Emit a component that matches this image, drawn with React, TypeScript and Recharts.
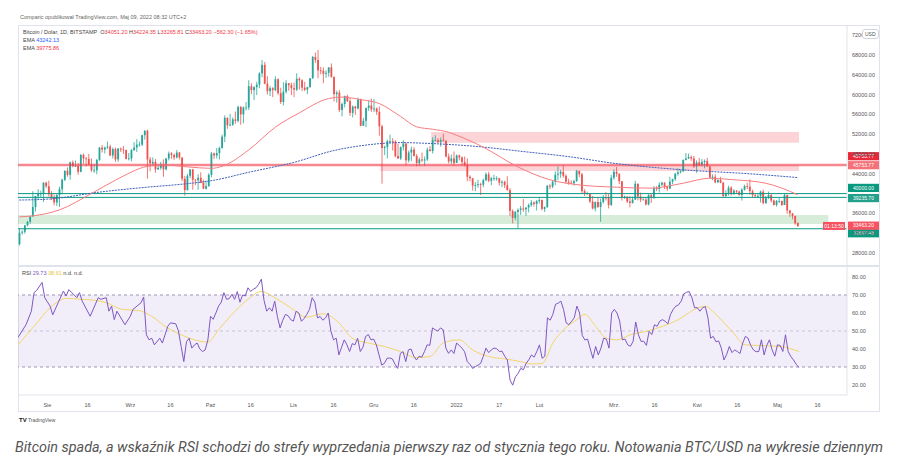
import React from "react";
import { ComposedChart, Bar, Line, XAxis, YAxis, ReferenceLine, ReferenceArea } from "recharts";

// daily BTC/USD candles, Jul 21 2021 -> May 9 2022, in thousands of USD
const opens = [
  29.8, 32.1, 32.3, 33.6, 34.3, 35.4, 37.3, 39.5, 40.0, 40.0,
  42.2, 41.5, 39.9, 39.2, 38.2, 39.7, 40.9, 42.8, 44.6, 43.8,
  46.3, 45.6, 45.6, 44.4, 47.8, 47.1, 47.0, 45.9, 44.7, 44.7,
  46.8, 49.3, 48.9, 49.3, 49.5, 47.7, 49.0, 46.9, 49.1, 48.9,
  48.8, 47.0, 47.1, 48.8, 49.3, 49.9, 49.9, 51.8, 52.7, 46.9,
  46.1, 46.4, 44.9, 45.2, 46.0, 44.9, 47.1, 48.1, 47.8, 47.3,
  48.3, 47.3, 43.0, 40.7, 43.6, 44.9, 42.8, 42.7, 43.2, 42.2,
  41.0, 41.5, 43.8, 48.1, 47.7, 48.2, 49.2, 51.5, 55.3, 53.8,
  53.9, 55.0, 54.7, 57.5, 56.0, 57.4, 57.4, 61.7, 60.9, 61.5,
  62.0, 64.3, 66.0, 62.2, 60.7, 61.3, 60.9, 63.1, 60.3, 58.5,
  60.6, 62.3, 61.9, 61.3, 61.0, 63.2, 62.9, 61.4, 61.0, 61.5,
  63.3, 67.6, 67.0, 64.9, 64.8, 64.2, 64.4, 65.5, 63.6, 60.1,
  60.4, 56.9, 58.1, 59.7, 58.7, 56.3, 57.6, 57.2, 59.0, 53.7,
  54.7, 57.3, 57.8, 57.0, 57.2, 56.5, 53.6, 49.2, 49.4, 50.6,
  50.6, 50.5, 47.6, 47.1, 49.4, 50.1, 46.7, 48.3, 48.9, 47.6,
  46.2, 46.9, 46.7, 46.9, 48.9, 48.6, 50.8, 50.8, 50.4, 50.8,
  50.7, 47.5, 46.5, 47.1, 46.2, 47.7, 47.3, 46.4, 45.8, 43.4,
  43.1, 41.6, 41.7, 41.9, 41.8, 42.7, 43.9, 42.6, 43.1, 43.1,
  43.1, 42.2, 42.4, 41.7, 40.7, 36.5, 35.1, 36.3, 36.7, 37.0,
  36.8, 37.2, 37.7, 38.2, 37.9, 38.5, 38.7, 36.9, 37.3, 41.6,
  41.4, 42.4, 43.8, 44.0, 44.4, 43.6, 42.4, 42.2, 42.1, 42.5,
  44.6, 43.9, 40.5, 40.0, 40.1, 38.4, 37.0, 38.3, 37.3, 38.3,
  39.2, 39.1, 37.7, 43.2, 44.4, 44.0, 42.5, 39.2, 39.4, 38.4,
  38.1, 38.8, 42.0, 39.4, 38.8, 38.8, 37.8, 39.7, 39.3, 41.1,
  40.9, 41.8, 42.2, 41.3, 41.0, 42.4, 42.9, 44.0, 44.3, 44.5,
  46.8, 47.1, 47.4, 47.1, 45.5, 46.3, 45.8, 46.4, 46.6, 45.5,
  43.2, 43.4, 42.3, 42.8, 42.2, 39.5, 40.1, 41.2, 39.9, 40.6,
  40.4, 39.7, 40.8, 41.5, 41.4, 40.5, 39.7, 39.5, 39.5, 40.4,
  38.1, 39.2, 39.7, 38.6, 37.7, 38.5, 38.5, 37.7, 39.7, 36.6,
  36.0, 35.5, 34.05,
];
const highs = [
  32.9, 32.6, 33.6, 34.5, 35.4, 40.5, 39.5, 40.9, 40.6, 42.3,
  42.4, 42.6, 40.5, 39.8, 39.9, 41.4, 43.0, 44.7, 45.3, 46.5,
  46.7, 46.7, 46.2, 48.0, 48.1, 47.4, 48.0, 47.1, 46.0, 47.0,
  49.4, 49.8, 49.5, 50.5, 49.9, 49.3, 49.3, 49.2, 49.3, 49.6,
  48.9, 48.2, 49.0, 50.4, 51.0, 50.5, 51.9, 52.8, 52.9, 47.4,
  47.3, 47.0, 45.9, 46.4, 46.9, 47.2, 48.5, 48.4, 48.1, 48.8,
  48.4, 47.3, 43.6, 44.0, 44.9, 45.0, 42.9, 43.9, 44.3, 42.8,
  42.6, 44.1, 48.4, 48.3, 49.2, 49.5, 51.9, 55.8, 55.4, 56.1,
  55.4, 56.6, 57.8, 57.7, 57.6, 58.5, 62.9, 62.3, 61.7, 62.6,
  64.5, 67.0, 66.6, 63.7, 61.7, 61.5, 63.7, 63.3, 61.4, 62.5,
  62.9, 62.3, 62.4, 62.4, 64.3, 63.5, 63.1, 62.6, 61.6, 63.3,
  67.8, 68.5, 69.0, 65.6, 65.5, 64.9, 65.5, 66.3, 63.6, 60.8,
  60.9, 58.4, 59.8, 60.0, 59.3, 57.8, 57.7, 59.4, 59.2, 55.3,
  57.4, 58.8, 59.2, 59.1, 57.4, 57.6, 53.9, 49.7, 50.9, 51.9,
  51.2, 50.8, 50.1, 49.5, 50.8, 50.2, 48.7, 49.5, 49.4, 48.0,
  47.3, 48.3, 47.5, 49.3, 49.6, 51.4, 51.8, 51.2, 51.3, 52.1,
  50.7, 48.1, 47.9, 48.5, 47.9, 47.9, 47.5, 47.5, 47.1, 43.7,
  43.1, 42.3, 42.8, 42.2, 43.0, 44.3, 44.4, 43.4, 43.8, 43.5,
  43.2, 42.7, 42.6, 43.5, 41.1, 36.8, 36.5, 37.0, 37.5, 38.9,
  37.2, 38.0, 38.7, 38.4, 38.7, 39.2, 38.8, 37.4, 41.7, 41.9,
  42.6, 44.5, 45.5, 44.8, 45.8, 43.9, 43.0, 42.7, 42.8, 44.8,
  44.6, 44.2, 40.9, 40.4, 40.1, 39.5, 38.4, 39.3, 39.0, 39.7,
  40.3, 39.9, 43.8, 44.9, 45.4, 44.1, 42.5, 39.6, 39.4, 39.5,
  39.4, 42.6, 42.0, 40.2, 39.3, 39.3, 39.9, 39.9, 41.5, 41.5,
  42.3, 42.4, 42.3, 41.6, 43.4, 43.0, 44.2, 45.1, 44.8, 46.9,
  48.2, 48.1, 47.7, 47.6, 46.7, 47.2, 47.0, 46.9, 47.2, 45.5,
  43.9, 43.9, 42.8, 43.4, 42.4, 40.7, 41.6, 41.5, 40.9, 40.7,
  40.6, 41.1, 41.8, 42.2, 42.9, 40.8, 39.9, 39.9, 40.6, 40.8,
  39.5, 40.4, 39.9, 38.8, 38.7, 39.2, 38.6, 40.0, 39.8, 36.7,
  36.1, 35.5, 34.22,
];
const lows = [
  29.5, 31.7, 31.9, 33.4, 33.9, 35.3, 36.4, 38.8, 39.3, 38.3,
  41.1, 39.4, 38.7, 37.6, 37.5, 37.3, 39.9, 42.5, 43.4, 42.8,
  45.3, 45.4, 43.8, 44.3, 46.0, 45.5, 45.7, 44.4, 44.2, 43.9,
  46.6, 48.3, 48.1, 49.0, 47.6, 47.1, 46.4, 46.4, 48.4, 48.0,
  46.9, 46.7, 46.5, 48.6, 48.4, 49.5, 49.6, 50.9, 43.0, 44.5,
  45.5, 44.2, 44.8, 44.8, 43.4, 44.7, 46.7, 47.0, 46.8, 47.1,
  46.9, 42.5, 39.6, 40.6, 43.1, 40.8, 41.7, 40.8, 42.1, 40.9,
  40.8, 41.4, 43.3, 47.0, 47.1, 46.9, 49.1, 50.4, 53.1, 53.6,
  53.7, 54.1, 54.4, 53.9, 54.2, 56.8, 56.9, 60.1, 58.9, 59.9,
  61.3, 63.5, 62.1, 60.0, 59.7, 59.5, 60.7, 59.9, 58.1, 57.8,
  60.2, 60.8, 59.9, 59.5, 60.7, 61.0, 60.7, 60.7, 60.1, 61.4,
  63.2, 66.4, 63.3, 64.1, 62.3, 63.4, 63.6, 63.4, 58.6, 58.4,
  56.5, 55.6, 57.4, 58.5, 55.7, 55.4, 55.9, 57.0, 53.6, 53.7,
  53.4, 56.7, 56.5, 56.5, 55.9, 51.7, 42.0, 47.8, 47.1, 50.1,
  48.7, 47.3, 47.0, 46.8, 48.7, 45.7, 46.3, 46.6, 47.5, 45.5,
  45.6, 46.4, 45.6, 46.6, 48.5, 48.1, 50.5, 50.2, 49.5, 50.5,
  47.3, 46.1, 46.0, 45.7, 46.2, 46.7, 45.7, 45.5, 42.5, 42.5,
  40.6, 40.5, 41.2, 39.7, 41.3, 42.5, 42.3, 41.7, 42.6, 42.6,
  41.6, 41.3, 41.1, 40.6, 35.5, 34.0, 34.6, 33.0, 35.7, 36.3,
  35.5, 36.2, 37.3, 37.4, 36.6, 38.0, 36.6, 36.3, 37.1, 40.9,
  41.1, 41.7, 42.7, 43.2, 43.2, 42.0, 41.8, 41.9, 41.6, 42.4,
  43.3, 40.1, 39.5, 39.7, 38.1, 36.8, 36.4, 37.1, 34.3, 38.0,
  38.6, 37.0, 37.5, 42.8, 43.4, 41.9, 38.6, 38.9, 38.1, 37.2,
  38.0, 38.7, 38.6, 38.3, 38.7, 37.6, 37.6, 38.1, 38.9, 40.5,
  40.2, 41.5, 40.9, 40.5, 40.9, 41.9, 42.6, 43.6, 44.1, 44.4,
  46.7, 47.0, 46.6, 45.2, 44.2, 45.6, 45.5, 45.1, 45.4, 43.1,
  42.7, 42.1, 42.1, 42.1, 39.2, 39.3, 39.6, 39.6, 39.8, 40.0,
  39.6, 38.6, 40.6, 40.9, 39.8, 39.2, 39.3, 39.2, 38.2, 37.8,
  37.9, 38.9, 38.2, 37.6, 37.4, 38.1, 37.5, 37.7, 35.9, 35.3,
  34.8, 33.7, 33.27,
];
const closes = [
  32.1, 32.3, 33.6, 34.3, 35.4, 37.3, 39.5, 40.0, 40.0, 42.2,
  41.5, 39.9, 39.2, 38.2, 39.7, 40.9, 42.8, 44.6, 43.8, 46.3,
  45.6, 45.6, 44.4, 47.8, 47.1, 47.0, 45.9, 44.7, 44.7, 46.8,
  49.3, 48.9, 49.3, 49.5, 47.7, 49.0, 46.9, 49.1, 48.9, 48.8,
  47.0, 47.1, 48.8, 49.3, 49.9, 49.9, 51.8, 52.7, 46.9, 46.1,
  46.4, 44.9, 45.2, 46.0, 44.9, 47.1, 48.1, 47.8, 47.3, 48.3,
  47.3, 43.0, 40.7, 43.6, 44.9, 42.8, 42.7, 43.2, 42.2, 41.0,
  41.5, 43.8, 48.1, 47.7, 48.2, 49.2, 51.5, 55.3, 53.8, 53.9,
  55.0, 54.7, 57.5, 56.0, 57.4, 57.4, 61.7, 60.9, 61.5, 62.0,
  64.3, 66.0, 62.2, 60.7, 61.3, 60.9, 63.1, 60.3, 58.5, 60.6,
  62.3, 61.9, 61.3, 61.0, 63.2, 62.9, 61.4, 61.0, 61.5, 63.3,
  67.6, 67.0, 64.9, 64.8, 64.2, 64.4, 65.5, 63.6, 60.1, 60.4,
  56.9, 58.1, 59.7, 58.7, 56.3, 57.6, 57.2, 59.0, 53.7, 54.7,
  57.3, 57.8, 57.0, 57.2, 56.5, 53.6, 49.2, 49.4, 50.6, 50.6,
  50.5, 47.6, 47.1, 49.4, 50.1, 46.7, 48.3, 48.9, 47.6, 46.2,
  46.9, 46.7, 46.9, 48.9, 48.6, 50.8, 50.8, 50.4, 50.8, 50.7,
  47.5, 46.5, 47.1, 46.2, 47.7, 47.3, 46.4, 45.8, 43.4, 43.1,
  41.6, 41.7, 41.9, 41.8, 42.7, 43.9, 42.6, 43.1, 43.1, 43.1,
  42.2, 42.4, 41.7, 40.7, 36.5, 35.1, 36.3, 36.7, 37.0, 36.8,
  37.2, 37.7, 38.2, 37.9, 38.5, 38.7, 36.9, 37.3, 41.6, 41.4,
  42.4, 43.8, 44.0, 44.4, 43.6, 42.4, 42.2, 42.1, 42.5, 44.6,
  43.9, 40.5, 40.0, 40.1, 38.4, 37.0, 38.3, 37.3, 38.3, 39.2,
  39.1, 37.7, 43.2, 44.4, 44.0, 42.5, 39.2, 39.4, 38.4, 38.1,
  38.8, 42.0, 39.4, 38.8, 38.8, 37.8, 39.7, 39.3, 41.1, 40.9,
  41.8, 42.2, 41.3, 41.0, 42.4, 42.9, 44.0, 44.3, 44.5, 46.8,
  47.1, 47.4, 47.1, 45.5, 46.3, 45.8, 46.4, 46.6, 45.5, 43.2,
  43.4, 42.3, 42.8, 42.2, 39.5, 40.1, 41.2, 39.9, 40.6, 40.4,
  39.7, 40.8, 41.5, 41.4, 40.5, 39.7, 39.5, 39.5, 40.4, 38.1,
  39.2, 39.7, 38.6, 37.7, 38.5, 38.5, 37.7, 39.7, 36.6, 36.0,
  35.5, 34.0, 33.46,
];

// EMA curves (day index -> value, thousands)
const ema50Idx = [0, 5, 15, 27, 36, 48, 54, 63, 72, 76, 86, 96, 105, 116, 121, 128, 135, 143, 149, 155, 161, 164, 174, 187, 199, 211, 224, 237, 249, 259, 268, 280, 292];
const ema50Val = [35.3, 35.5, 36.7, 40.0, 42.7, 45.5, 45.8, 45.4, 45.1, 45.5, 48.8, 53.4, 56.3, 59.2, 59.5, 59.0, 58.2, 55.6, 53.5, 53.0, 52.4, 51.8, 49.4, 45.4, 42.8, 41.7, 41.3, 41.1, 42.1, 43.1, 42.8, 42.1, 39.78];
const ema200Idx = [0, 11, 30, 48, 61, 73, 86, 103, 118, 130, 143, 155, 172, 189, 207, 222, 249, 274, 292];
const ema200Val = [38.7, 38.9, 40.3, 41.3, 41.9, 42.7, 44.3, 46.3, 48.7, 49.8, 50.3, 50.1, 49.5, 48.5, 47.4, 46.2, 44.8, 44.0, 43.24];

const rsiIdx = [
  0, 3, 5, 6, 7, 9, 10, 12, 13, 15, 17, 18, 19, 22, 23, 24, 27, 30, 31, 33, 34, 35, 36, 37, 40, 42, 43, 46, 47, 48,
  49, 50, 51, 53, 54, 56, 57, 59, 60, 61, 62, 63, 64, 65, 66, 67, 68, 69, 70, 71, 72, 73, 74, 75, 76, 77, 78, 79, 80, 81,
  82, 83, 84, 85, 86, 87, 88, 89, 90, 91, 92, 93, 94, 95, 96, 97, 98, 99, 100, 101, 102, 103, 104, 105, 106, 107, 108, 109, 110, 111,
  112, 113, 114, 115, 116, 117, 118, 119, 120, 121, 122, 123, 124, 125, 126, 127, 128, 129, 130, 131, 132, 133, 134, 135, 136, 137, 138, 139, 140, 141,
  142, 143, 144, 145, 146, 147, 148, 149, 150, 151, 152, 153, 154, 155, 156, 157, 158, 159, 160, 161, 162, 163, 164, 165, 166, 167, 168, 169, 170, 171,
  172, 173, 174, 175, 176, 177, 178, 179, 180, 181, 182, 183, 184, 185, 186, 187, 188, 189, 190, 191, 192, 193, 194, 195, 196, 197, 198, 199, 200, 201,
  202, 203, 204, 205, 206, 207, 208, 209, 210, 211, 212, 213, 214, 215, 216, 217, 218, 219, 220, 221, 222, 223, 224, 225, 226, 227, 228, 229, 230, 231,
  232, 233, 234, 235, 236, 237, 238, 239, 240, 241, 242, 243, 244, 245, 246, 247, 248, 249, 250, 251, 252, 253, 254, 255, 256, 257, 258, 259, 260, 261,
  262, 263, 264, 265, 266, 267, 268, 269, 270, 271, 272, 273, 274, 275, 276, 277, 278, 279, 280, 281, 282, 283, 284, 285, 286, 287, 288, 289, 290, 291,
  292,
];
const rsiVal = [
  46.4, 53.5, 61, 71.3, 72.6, 77, 68.5, 63.8, 59, 65.7, 72.2, 69.4, 73, 68.5, 71.3, 66.6, 58.2, 68.5, 67.6, 68.5, 61, 63.8, 56.3, 61, 53.5, 58.2, 62, 65.7, 68.9, 47.9,
  45.1, 46, 42.3, 46, 43.3, 52.6, 54.5, 54, 50, 41.4, 33, 44, 46, 40.5, 42.3, 43.3, 40, 38.6, 39.5, 45, 58.2, 56.5, 60, 63.8, 66, 71.3, 67.6, 68, 70.4, 67.6,
  71.9, 66, 70, 69.5, 74, 72, 73.2, 74, 76, 78.8, 67, 61, 62.9, 61, 66.6, 58, 51.7, 56, 59.2, 58.5, 56.3, 55.5, 61, 60, 55.4, 57, 59.2, 62, 68.5, 66,
  57.3, 58, 56, 57.3, 60, 50, 45.1, 46, 36.7, 41, 45.1, 42.3, 38.6, 43, 42.3, 46, 38.6, 41, 47, 48, 45.1, 45.5, 42.3, 36.7, 31.1, 32, 34.8, 35, 34.5, 31.5,
  29.2, 37.6, 38.5, 33, 39.5, 40, 36, 33.9, 36, 35.5, 38.6, 42.3, 42, 51.7, 50.7, 50, 51.7, 50.7, 40.5, 37.6, 39.5, 37.5, 43.3, 42, 40.5, 38.5, 33, 31.5, 29.2, 30.2,
  31, 32, 36, 40.5, 38, 39.5, 40.5, 40.2, 38.6, 38.8, 36, 33.9, 22.7, 19.9, 24.5, 26.4, 29.2, 28.5, 32, 34, 36.7, 35.5, 38.6, 42.3, 34.8, 36, 57.3, 56, 59.2, 64.8,
  65.5, 66.6, 62, 54.5, 53.5, 55.4, 57.3, 63.8, 60, 47.5, 45, 45.5, 40, 34.8, 41.4, 36.7, 40.5, 46, 45.5, 40.5, 60, 62, 60, 55.4, 45.1, 45.5, 42.3, 41.5, 44.2, 55,
  47.9, 44.2, 44.3, 42, 49.8, 48, 53.5, 52.6, 55.5, 56.3, 55.4, 54, 59.2, 62, 63.8, 64.5, 66.6, 70.7, 71.5, 71.9, 68.5, 62.9, 63, 61, 62.9, 63.5, 57.3, 46, 47, 44,
  44.5, 40.5, 33.9, 37, 41.4, 38, 39.5, 38.6, 37.5, 43.3, 47, 46, 42, 39.5, 38.5, 38.6, 45.1, 36.7, 42, 45.1, 39.5, 36, 42.3, 42, 38.6, 47.9, 38.6, 35.8, 33.9, 31.5,
  29.73,
];
const rsiMaIdx = [0, 6, 12, 18, 24, 29, 33, 39, 45, 50, 55, 61, 66, 71, 75, 80, 86, 91, 96, 102, 108, 114, 120, 125, 131, 137, 143, 149, 154, 159, 165, 170, 176, 182, 188, 192, 196, 200, 204, 209, 212, 216, 220, 224, 229, 235, 241, 247, 253, 257, 261, 267, 272, 278, 285, 292];
const rsiMaVal = [42.3, 52.6, 62.9, 68.1, 67.6, 67, 65.7, 62, 61.4, 58.2, 52.6, 47.9, 45.1, 43.8, 50.7, 59.2, 67.6, 71.9, 68.5, 62.9, 57.7, 59.6, 54.5, 46, 43.3, 41.4, 38.6, 35.2, 35.8, 43.3, 45.1, 39.5, 35.8, 34.5, 33, 31.7, 32, 43.3, 50.7, 56.3, 59.2, 52.6, 46, 45.1, 47.9, 49.8, 52.6, 56.3, 62, 63.8, 59.2, 49.8, 42.3, 41.9, 41.4, 38.61];

const tickDates = ["2021-08-01", "2021-08-16", "2021-09-01", "2021-09-16", "2021-10-01", "2021-10-16", "2021-11-01", "2021-11-16", "2021-12-01", "2021-12-16", "2022-01-01", "2022-01-17", "2022-02-01", "2022-03-01", "2022-03-16", "2022-04-01", "2022-04-16", "2022-05-01", "2022-05-16"];
const tickLabels = ["Sie", "16", "Wrz", "16", "Paź", "16", "Lis", "16", "Gru", "16", "2022", "17", "Lut", "Mrz.", "16", "Kwi", "16", "Maj", "16"];
// 40000 is covered by its own price box, so it is left off the scale
const priceTicks = [28, 32, 36, 44, 48, 52, 56, 60, 64, 68, 72];
const rsiTicks = [20, 30, 40, 50, 60, 70, 80];

const UP = "#26a69a";
const DOWN = "#ef5350";
const TEAL = "#089981";
const RED = "#f23645";
const SLOTS = 311; // trading days plus empty space on the right

const dates = Array.from({ length: SLOTS }, (_, i) =>
  new Date(Date.UTC(2021, 6, 21 + i)).toISOString().slice(0, 10)
);

const rows: any[] = dates.map((d, i) => ({
  d,
  o: opens[i] ?? null,
  h: highs[i] ?? null,
  l: lows[i] ?? null,
  c: closes[i] ?? null,
  range: i < closes.length ? [lows[i], highs[i]] : null,
  ema50: null,
  ema200: null,
  rsi: null,
  rsiMa: null,
}));
ema50Idx.forEach((k, j) => (rows[k].ema50 = ema50Val[j]));
ema200Idx.forEach((k, j) => (rows[k].ema200 = ema200Val[j]));
rsiIdx.forEach((k, j) => (rows[k].rsi = rsiVal[j]));
rsiMaIdx.forEach((k, j) => (rows[k].rsiMa = rsiMaVal[j]));

const FONT = "'Liberation Sans', Arial, sans-serif";

const Candle = (props: any) => {
  const { x, y, width, height, payload } = props;
  if (payload == null || payload.o == null) return null;
  const { o, h, l, c } = payload;
  const top = Math.min(y, y + height);
  const bottom = Math.max(y, y + height);
  const span = h - l || 1;
  const py = (v: number) => top + ((h - v) / span) * (bottom - top);
  const color = c >= o ? UP : DOWN;
  const cx = x + width / 2;
  const bTop = py(Math.max(o, c));
  const bBot = py(Math.min(o, c));
  return (
    <g>
      <line x1={cx} x2={cx} y1={top} y2={bottom} stroke={color} strokeWidth={0.8} />
      <rect x={cx - 0.9} y={bTop} width={1.8} height={Math.max(bBot - bTop, 0.8)} fill={color} />
    </g>
  );
};

// coloured price boxes on the right scale
const tag = (items: { text: string; fill: string; dy: number }[], timer?: string) => (p: any) => {
  const vb = p.viewBox || {};
  const x = vb.x + vb.width + 1;
  return (
    <g>
      {timer && (
        <g>
          <rect x={vb.x + vb.width - 24} y={vb.y - 4} width={22} height={8} fill="#f7525f" />
          <text x={vb.x + vb.width - 13} y={vb.y + 1.8} fontSize={5} fill="#fff" textAnchor="middle" fontFamily={FONT}>{timer}</text>
        </g>
      )}
      {items.map((it, i) => (
        <g key={i}>
          <rect x={x} y={vb.y + it.dy - 4} width={31} height={8.2} fill={it.fill} />
          <text x={x + 15.5} y={vb.y + it.dy + 1.8} fontSize={5} fill="#fff" textAnchor="middle" fontFamily={FONT}>{it.text}</text>
        </g>
      ))}
    </g>
  );
};

const axisTick = { fontSize: 5.5, fill: "#555", fontFamily: FONT };

export default function App() {
  return (
    <div style={{ position: "absolute", left: 0, top: 0, width: 900, height: 465, background: "#fff", fontFamily: FONT, overflow: "hidden" }}>
      <div style={{ position: "absolute", left: 20, top: 14, fontSize: 5.5, color: "#666", whiteSpace: "nowrap" }}>
        Comparic opublikował TradingView.com, Maj 09, 2022 08:32 UTC+2
      </div>
      <div style={{ position: "absolute", left: 18, top: 25, width: 862, height: 387, border: "1px solid #e0e3eb", boxSizing: "border-box" }} />
      <div style={{ position: "absolute", left: 18, top: 265, width: 862, height: 2, background: "#e0e3eb" }} />

      <div style={{ position: "absolute", left: 18, top: 25 }}>
        <ComposedChart width={862} height={241} data={rows} margin={{ top: 0, right: 0, left: 0, bottom: 0 }} barCategoryGap={0}>
          <XAxis dataKey="d" hide />
          <YAxis
            orientation="right"
            width={33}
            domain={[25.374, 74.06]}
            ticks={priceTicks}
            allowDataOverflow
            tickFormatter={(v: number) => (v * 1000).toFixed(2)}
            tick={axisTick}
            tickLine={false}
            tickSize={4}
            tickMargin={1}
            axisLine={{ stroke: "#e0e3eb" }}
          />
          <ReferenceArea x1={dates[155]} x2={dates[292]} y1={50.25} y2={52.45} fill={RED} fillOpacity={0.22} stroke="none" />
          <ReferenceArea x1={dates[136]} x2={dates[292]} y1={44.55} y2={45.75} fill={RED} fillOpacity={0.22} stroke="none" />
          <ReferenceArea x2={dates[303]} y1={33.85} y2={35.68} fill="#4caf50" fillOpacity={0.22} stroke="none" />
          <ReferenceLine y={45.75377} stroke={RED} strokeOpacity={0.6} strokeWidth={2.5}
            label={tag([{ text: "45753.77", fill: "#e8293a", dy: -9 }, { text: "45753.77", fill: "#f4717a", dy: 0 }])} />
          <ReferenceLine y={40} stroke={TEAL} strokeWidth={1} label={tag([{ text: "40000.00", fill: TEAL, dy: -5.8 }])} />
          <ReferenceLine y={39.2357} stroke={TEAL} strokeWidth={1} label={tag([{ text: "39235.70", fill: "#22a08a", dy: 0.6 }])} />
          <ReferenceLine y={32.89748} stroke={TEAL} strokeWidth={1} label={tag([{ text: "32897.48", fill: TEAL, dy: 4.4 }])} />
          <ReferenceLine y={33.4632} stroke="none" label={tag([{ text: "33463.20", fill: "#f7525f", dy: -0.4 }], "01:13:50")} />
          <Line dataKey="ema200" stroke="#4060b8" strokeWidth={1} strokeDasharray="2 1" dot={false} connectNulls type="monotone" isAnimationActive={false} />
          <Line dataKey="ema50" stroke="#f77c80" strokeWidth={1} dot={false} connectNulls type="monotone" isAnimationActive={false} />
          <Bar dataKey="range" shape={<Candle />} isAnimationActive={false} />
        </ComposedChart>
      </div>

      <div style={{ position: "absolute", left: 18, top: 266 }}>
        <ComposedChart width={862} height={146} data={rows} margin={{ top: 0, right: 0, left: 0, bottom: 0 }}>
          <XAxis
            dataKey="d"
            ticks={tickDates}
            interval={0}
            tickFormatter={(v: string) => tickLabels[tickDates.indexOf(v)]}
            tick={axisTick}
            tickLine={false}
            axisLine={{ stroke: "#e0e3eb" }}
            height={17}
          />
          <YAxis
            orientation="right"
            width={33}
            domain={[14.44, 86.11]}
            ticks={rsiTicks}
            allowDataOverflow
            tickFormatter={(v: number) => v.toFixed(2)}
            tick={axisTick}
            tickLine={false}
            tickSize={4}
            tickMargin={1}
            axisLine={{ stroke: "#e0e3eb" }}
          />
          <ReferenceArea y1={30} y2={70} fill="#7e57c2" fillOpacity={0.1} stroke="none" />
          <ReferenceLine y={70} stroke="#9e97b8" strokeDasharray="3 3" />
          <ReferenceLine y={50} stroke="#c8c3d8" strokeDasharray="3 3" />
          <ReferenceLine y={30} stroke="#9e97b8" strokeDasharray="3 3" />
          <Line dataKey="rsiMa" stroke="#f2d46b" strokeWidth={1} dot={false} connectNulls type="monotone" isAnimationActive={false} />
          <Line dataKey="rsi" stroke="#7e57c2" strokeWidth={1} dot={false} connectNulls type="linear" isAnimationActive={false} />
        </ComposedChart>
      </div>

      <div style={{ position: "absolute", left: 862, top: 29, height: 8, padding: "0 2px", border: "1px solid #d1d4dc", borderRadius: 3, background: "#fff", fontSize: 5, lineHeight: "8px", color: "#555" }}>USD</div>

      <div style={{ position: "absolute", left: 23, top: 28, fontSize: 5.5, lineHeight: "8px", color: "#444", whiteSpace: "nowrap" }}>
        <div>
          Bitcoin / Dolar, 1D, BITSTAMP&nbsp; O<span style={{ color: RED }}>34051.20</span> H<span style={{ color: RED }}>34224.35</span> L
          <span style={{ color: RED }}>33265.81</span> C<span style={{ color: RED }}>33463.20</span> <span style={{ color: RED }}>−562.30 (−1.65%)</span>
        </div>
        <div>EMA <span style={{ color: "#2962ff" }}>43242.13</span></div>
        <div>EMA <span style={{ color: RED }}>39775.86</span></div>
      </div>

      <div style={{ position: "absolute", left: 22, top: 270, fontSize: 5.5, color: "#444", whiteSpace: "nowrap" }}>
        RSI <span style={{ color: "#7e57c2" }}>29.73</span> <span style={{ color: "#e8c43a" }}>38.61</span> n.d. n.d.
      </div>

      <div style={{ position: "absolute", left: 19, top: 417, fontSize: 5, color: "#555", whiteSpace: "nowrap" }}>
        <b style={{ color: "#131722", fontSize: 6 }}>TV</b> TradingView
      </div>

      <svg width={900} height={30} style={{ position: "absolute", left: 0, top: 432 }}>
        <text x={15} y={20} textLength={868} lengthAdjust="spacingAndGlyphs" fontSize={13.8} fontStyle="italic" fill="#555" fontFamily="Roboto, 'Liberation Sans', sans-serif">
          Bitcoin spada, a wskaźnik RSI schodzi do strefy wyprzedania pierwszy raz od stycznia tego roku. Notowania BTC/USD na wykresie dziennym
        </text>
      </svg>
    </div>
  );
}
